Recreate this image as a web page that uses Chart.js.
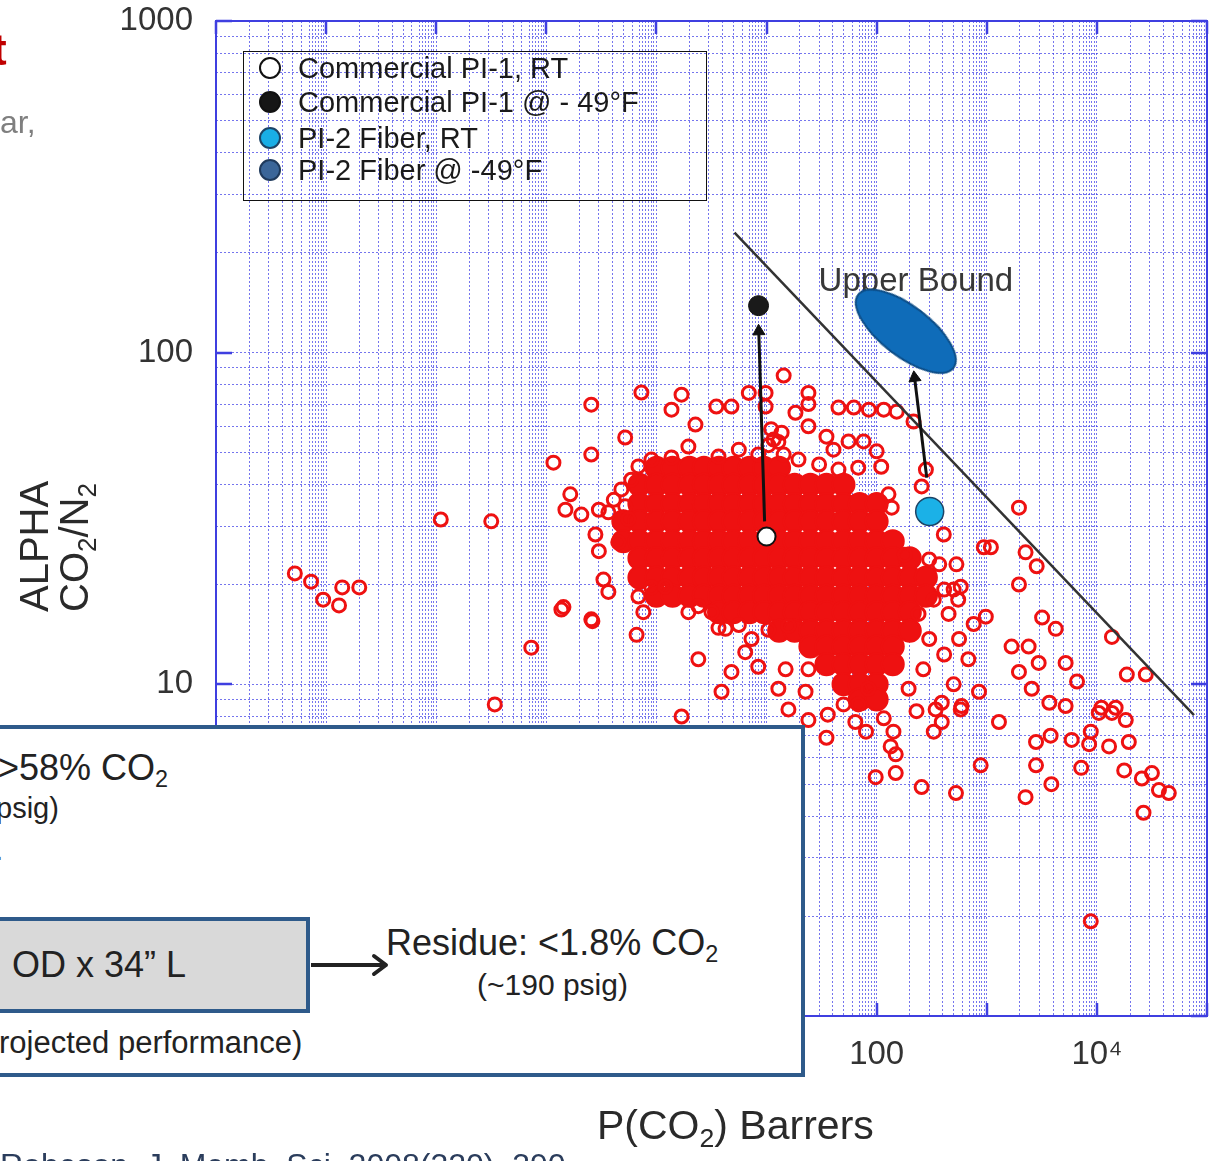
<!DOCTYPE html>
<html><head><meta charset="utf-8">
<script src="https://cdn.jsdelivr.net/npm/chart.js@4.4.1/dist/chart.umd.min.js"></script>
<style>
html,body{margin:0;padding:0;background:#fff;overflow:hidden;}
body{width:1213px;height:1161px;position:relative;font-family:"Liberation Sans",Arial,Helvetica,sans-serif;}
#wrap{position:absolute;left:0;top:0;width:1213px;height:1161px;}
.abs{position:absolute;white-space:nowrap;}
.sb{position:relative;top:0.3em;font-size:0.65em;vertical-align:baseline;}
.lg{position:absolute;left:298px;font-size:29px;line-height:29px;color:#1a1a1a;white-space:nowrap;}
.mk{position:absolute;left:259px;width:18px;height:18px;border-radius:50%;border:2px solid #111;}
</style></head><body>
<div id="wrap"><canvas id="c" width="1213" height="1161"></canvas></div>

<!-- cropped slide text at top-left -->
<div class="abs" style="left:-8px;top:28px;font-size:44px;line-height:44px;font-weight:bold;color:#c00000;">t</div>
<div class="abs" style="left:0px;top:106px;font-size:32px;line-height:32px;color:#7f7f7f;">ar,</div>

<!-- legend -->
<div class="abs" style="left:243px;top:51px;width:462px;height:148px;border:1.5px solid #111;"></div>
<div class="mk" style="top:57px;background:#fff;"></div>
<div class="mk" style="top:91px;background:#161616;"></div>
<div class="mk" style="top:127px;background:#19aee6;border-color:#1d4466;"></div>
<div class="mk" style="top:159px;background:#3b6699;border-color:#1f3a5c;"></div>
<div class="lg" style="top:54px;">Commercial PI-1, RT</div>
<div class="lg" style="top:88px;">Commercial PI-1 @ - 49°F</div>
<div class="lg" style="top:124px;">PI-2 Fiber, RT</div>
<div class="lg" style="top:156px;">PI-2 Fiber @ -49°F</div>

<!-- axis titles -->
<div class="abs" style="left:14px;top:612px;transform-origin:0 0;transform:rotate(-90deg);font-size:40px;line-height:40px;color:#2a2a2a;">ALPHA<br>CO<span class="sb">2</span>/N<span class="sb">2</span></div>
<div class="abs" style="left:597px;top:1105px;font-size:41px;line-height:41px;color:#2a2a2a;">P(CO<span class="sb">2</span>) Barrers</div>

<!-- overlay process box -->
<div class="abs" style="left:-20px;top:725px;width:817px;height:344px;border:4px solid #2e5a8a;background:#fff;"></div>
<div class="abs" style="left:-2px;top:750px;font-size:36px;line-height:36px;color:#222;">&gt;58% CO<span class="sb">2</span></div>
<div class="abs" style="left:-4px;top:794px;font-size:29px;line-height:29px;color:#222;">psig)</div>
<div class="abs" style="left:-5px;top:836px;font-size:29px;line-height:29px;color:#222;">.</div>
<div class="abs" style="left:-20px;top:917px;width:322px;height:88px;border:4px solid #2e5a8a;background:#d9d9d9;"></div>
<div class="abs" style="left:12px;top:947px;font-size:36px;line-height:36px;color:#222;">OD x 34” L</div>
<svg class="abs" style="left:305px;top:950px;" width="90" height="30"><line x1="6" y1="15" x2="80" y2="15" stroke="#222" stroke-width="4"/><polyline points="69,6 81,15 69,24" fill="none" stroke="#222" stroke-width="4" stroke-linecap="round" stroke-linejoin="round"/></svg>
<div class="abs" style="left:386px;top:925px;font-size:36px;line-height:36px;color:#222;">Residue: &lt;1.8% CO<span class="sb">2</span></div>
<div class="abs" style="left:477px;top:970px;font-size:30px;line-height:30px;color:#222;">(~190 psig)</div>
<div class="abs" style="left:-1px;top:1027px;font-size:31px;line-height:31px;color:#222;">rojected performance)</div>

<!-- citation (cut at page bottom) -->
<div class="abs" style="left:0px;top:1149px;font-size:32px;line-height:32px;color:#2b3d5c;">Robeson, J. Memb. Sci. 2008(320), 390</div>

<script>
// ---------------- data ----------------
// Literature data (red open circles): outlying points
const literaturePoints = [
 [0.00052,21.6],[0.00073,20.4],[0.00094,18],[0.00131,17.3],[0.0014,19.6],[0.002,19.6],
 [0.011,31.4],[0.0316,31],[0.073,12.9],[0.034,8.7],[0.116,46.6],[0.143,17.1],[0.262,15.5],
 [0.256,69.7],[0.256,49.3],[0.52,55.5],[0.73,75.8],
 [0.165,37.4],[0.149,33.6],[0.208,32.5],[0.3,33.6],[0.366,33],[0.279,28.3],[0.3,25.2],
 [0.45,26.8],[0.33,20.7],[0.366,19],[0.137,16.8],[0.256,15.7],[0.66,14.1],[0.686,18.4],
 [0.9,19.6],[1.2,19.7],[0.76,16.5],[1.95,16.5],[2.4,17.2],[3.16,16.5],[2.4,11.9],[4.24,14.7],
 [3.9,9.5],[4.8,10.9],[6.4,12.5],[7.3,13.7],[8.4,11.3],[15.8,15],[14.9,11.1],[12.8,9.7],
 [24,11.1],[22.6,9.5],[1.69,8],[15.8,8.4],
 [1.37,67.3],[1.69,74.7],[2.26,60.7],[3.5,68.8],[4.8,68.8],[6.9,75.6],[9.8,75.6],[13.7,57.4],
 [18.3,65.9],[24,75.6],[24,60],[14.3,85.3],
 [0.686,45.4],[0.9,47.6],[1.37,48.3],[1.95,52.1],[3.66,48.6],[0.48,38.7],[0.59,41.4],[0.52,34.4],
 [24,70],[45,68.3],[62,68.3],[85,67.3],[116,67.3],[152,66.4],[216,62],[35,55.8],[40.5,51],
 [55.5,54],[76,54],[100,50.4],[45,44.4],[68,45],[110,45.3],[280,44.4],[256,39.5],[128,37.4],
 [137,34.1],[407,28.3],[1960,34.1],[940,25.9],[1090,25.9],[2250,25],[2840,22.7],[1960,20],
 [530,23],[580,19.7],[980,16],[3180,15.9],[4230,14.7],[13700,13.9],[1680,13],[2400,13],
 [2960,11.6],[5200,11.6],[6600,10.2],[18700,10.7],[27800,10.7],[1960,10.9],[2560,9.7],
 [3700,8.8],[5200,8.6],[11000,8.5],[14800,8.5],[850,9.5],[590,8.6],[390,8.8],
 [35,6.9],[64,7.7],[80,7.2],[98,5.25],[142,7.2],[134,6.5],[149,6.15],[149,5.4],[256,4.9],
 [343,8.4],[390,7.7],[330,7.2],[580,8.4],[525,4.7],[880,5.7],[1290,7.7],[2800,6.7],[3800,7],
 [2800,5.7],[2250,4.57],[3860,5],[5900,6.8],[7200,5.6],[8800,7.2],[8500,6.6],[12900,6.5],
 [17700,5.5],[19500,6.7],[25600,5.2],[31600,5.4],[36600,4.8],[45000,4.7],[26500,4.1],
 [8800,1.93],[13700,8.2],[18300,7.8],[10400,8.2],
 [330,18],[450,16.3],[300,13.7],[410,12.3],[560,13.7],[265,11.1],[500,10],[680,11.9],
 [195,9.7],[230,8.3],[116,7.9],[68,8.7],[84,9.7],[50,8.7],[36,8.1],[24,7.8],[370,23],
 [550,18],[760,15.2],[500,19.3],[180,24.6],
 [11.6,54.7],[10.4,52.6],[9.8,68.8],[11,58.8],[12.8,53.8],
 [5.6,51],[8.4,49.3],[19.5,47.6],[30,46],[14.3,49.3],[5.6,15.1],[10.4,14.6],[3.66,14.8],
 [0.556,31.5],[0.41,36],[300,23.8],[410,19.3],[240,16.3]
];
// Literature data: the dense, overlapping mass of circles in the middle
const literatureCore = [
 [0.5,31],[0.5,27],
 [0.7,40],[0.7,35],[0.7,31],[0.7,27],[0.7,24],[0.7,21],
 [1,45],[1,40],[1,35],[1,31],[1,27],[1,24],[1,21],[1,18.5],
 [1.4,45],[1.4,40],[1.4,35],[1.4,31],[1.4,27],[1.4,24],[1.4,21],[1.4,18.5],
 [2,45],[2,40],[2,35],[2,31],[2,27],[2,24],[2,21],[2,18.5],
 [2.7,45],[2.7,40],[2.7,35],[2.7,31],[2.7,27],[2.7,24],[2.7,21],[2.7,18.5],
 [3.7,45],[3.7,40],[3.7,35],[3.7,31],[3.7,27],[3.7,24],[3.7,21],[3.7,18.5],[3.7,16.5],
 [5,45],[5,40],[5,35],[5,31],[5,27],[5,24],[5,21],[5,18.5],[5,16.5],
 [7,45],[7,40],[7,35],[7,31],[7,27],[7,24],[7,21],[7,18.5],[7,16.5],
 [9.5,45],[9.5,40],[9.5,35],[9.5,31],[9.5,27],[9.5,24],[9.5,21],[9.5,18.5],[9.5,16.5],
 [13,45],[13,40],[13,35],[13,31],[13,27],[13,24],[13,21],[13,18.5],[13,16.5],[13,14.5],
 [18,40],[18,35],[18,31],[18,27],[18,24],[18,21],[18,18.5],[18,16.5],[18,14.5],
 [25,40],[25,35],[25,31],[25,27],[25,24],[25,21],[25,18.5],[25,16.5],[25,14.5],[25,13],
 [35,40],[35,35],[35,31],[35,27],[35,24],[35,21],[35,18.5],[35,16.5],[35,14.5],[35,13],[35,11.5],
 [50,40],[50,35],[50,31],[50,27],[50,24],[50,21],[50,18.5],[50,16.5],[50,14.5],[50,13],[50,11.5],[50,10],
 [70,35],[70,31],[70,27],[70,24],[70,21],[70,18.5],[70,16.5],[70,14.5],[70,13],[70,11.5],[70,10],[70,9],
 [100,35],[100,31],[100,27],[100,24],[100,21],[100,18.5],[100,16.5],[100,14.5],[100,13],[100,11.5],[100,10],[100,9],
 [140,27],[140,24],[140,21],[140,18.5],[140,16.5],[140,14.5],[140,13],[140,11.5],
 [200,24],[200,21],[200,18.5],[200,16.5],[200,14.5],
 [280,21],[280,18.5]
];
const pi1RT   = [[10, 27.9]];      // Commercial PI-1, RT
const pi1Cold = [[8.46, 138.6]];   // Commercial PI-1 @ -49°F
const pi2RT   = [[303, 33.2]];     // PI-2 Fiber, RT
const pi2Cold = [[184, 116]];      // PI-2 Fiber @ -49°F (ellipse)
const upperBound = [[5.12, 230], [76200, 8.07]];
const arrowPI1 = [[9.6, 31], [8.5, 116]];
const arrowPI2 = [[285, 42], [221, 84]];
const upperBoundLabel = 'Upper Bound';
const upperBoundLabelAt = [29.7, 164];
const xTickLabels = [[1e-4,'10⁻⁴'],[0.01,'0.01'],[1,'1'],[100,'100'],[1e4,'10⁴']];
const yTickLabels = [[1,'1'],[10,'10'],[100,'100'],[1000,'1000']];
const xGridMultipliers = [1,2,3,4,5,6,7,7.5,8,8.5,9,9.5];
const yGridMultipliers = [1,2,3,4,5,6,7,8,9];
// ----------------------------------------------------------------

const toXY = a => a.map(p => ({x:p[0], y:p[1]}));
function gridTicks(minExp, maxExp, mults){
  const t = [];
  for (let k = minExp; k < maxExp; k++) for (const m of mults) t.push({value: m*Math.pow(10,k)});
  t.push({value: Math.pow(10,maxExp)});
  return t;
}
function labelFor(list, v){
  for (const [val, s] of list) if (Math.abs(Math.log10(val) - Math.log10(v)) < 1e-6) return s;
  return '';
}
function zeroPad(s){ s.paddingTop = 0; s.paddingBottom = 0; s.paddingLeft = 0; s.paddingRight = 0; }

// ellipse marker image for PI-2 Fiber @ -49°F
const ell = document.createElement('canvas');
ell.width = 128; ell.height = 58;
{ const g = ell.getContext('2d'); g.beginPath(); g.ellipse(64,29,60,25,0,0,Math.PI*2);
  g.fillStyle = '#0f6cb9'; g.fill(); g.lineWidth = 2; g.strokeStyle = '#0b4c86'; g.stroke(); }

const RED = '#ee1111';
const BLUE_FRAME = '#3f3fe0';
const GRID = 'rgba(64,64,232,0.72)';

const framePlugin = {
  id: 'frame',
  beforeDatasetsDraw(chart){
    const {ctx, chartArea:a, scales:{x, y}} = chart;
    ctx.save();
    ctx.strokeStyle = BLUE_FRAME; ctx.lineWidth = 2;
    ctx.strokeRect(a.left, a.top, a.right - a.left, a.bottom - a.top);
    ctx.lineWidth = 2.5;
    for (let k = -4; k <= 5; k++){
      const px = Math.round(x.getPixelForValue(Math.pow(10,k)));
      ctx.beginPath(); ctx.moveTo(px, a.bottom); ctx.lineTo(px, a.bottom - 13);
      ctx.moveTo(px, a.top); ctx.lineTo(px, a.top + 13); ctx.stroke();
    }
    for (let k = 0; k <= 3; k++){
      const py = Math.round(y.getPixelForValue(Math.pow(10,k)));
      ctx.beginPath(); ctx.moveTo(a.left, py); ctx.lineTo(a.left + 16, py);
      ctx.moveTo(a.right, py); ctx.lineTo(a.right - 16, py); ctx.stroke();
    }
    ctx.font = '33px "Liberation Sans", Arial, sans-serif';
    ctx.fillStyle = '#383838'; ctx.textBaseline = 'middle'; ctx.textAlign = 'left';
    ctx.fillText(upperBoundLabel, x.getPixelForValue(upperBoundLabelAt[0]), y.getPixelForValue(upperBoundLabelAt[1]));
    ctx.restore();
  }
};

new Chart(document.getElementById('c'), {
  type: 'scatter',
  data: { datasets: [
    { label:'Commercial PI-1, RT', data: toXY(pi1RT), order:1, pointRadius:9, pointBackgroundColor:'#fff', pointBorderColor:'#111', pointBorderWidth:2 },
    { label:'Commercial PI-1 @ -49°F', data: toXY(pi1Cold), order:1, pointRadius:10, pointBackgroundColor:'#1a1a1a', pointBorderColor:'#111', pointBorderWidth:1 },
    { label:'PI-2 Fiber, RT', data: toXY(pi2RT), order:1, pointRadius:14, pointBackgroundColor:'#1bb1e7', pointBorderColor:'#1d4466', pointBorderWidth:1.5 },
    { label:'arrow1', data: toXY(arrowPI1), order:2, showLine:true, borderColor:'#111', borderWidth:3, pointStyle:'triangle', pointRadius:[0,7], pointRotation:[0,-2], pointBackgroundColor:'#111', pointBorderColor:'#111', pointBorderWidth:1 },
    { label:'arrow2', data: toXY(arrowPI2), order:2, showLine:true, borderColor:'#111', borderWidth:3, pointStyle:'triangle', pointRadius:[0,7], pointRotation:[0,-7], pointBackgroundColor:'#111', pointBorderColor:'#111', pointBorderWidth:1 },
    { label:'PI-2 Fiber @ -49°F', data: toXY(pi2Cold), order:3, pointStyle: ell, pointRadius:30, pointRotation:37.6 },
    { label:'Upper Bound', data: toXY(upperBound), order:4, showLine:true, borderColor:'#333', borderWidth:2.5, pointRadius:0 },
    { label:'Literature', data: toXY(literaturePoints), order:5, pointRadius:6.5, pointBorderWidth:3, pointBorderColor:RED, pointBackgroundColor:'rgba(0,0,0,0)' },
    { label:'Literature (dense)', data: toXY(literatureCore), order:6, pointRadius:11, pointBorderWidth:2, pointBorderColor:RED, pointBackgroundColor:RED }
  ]},
  options: {
    responsive:false, devicePixelRatio:1, animation:false,
    layout:{ autoPadding:false, padding:{ top:21, right:6, left:0, bottom:0 } },
    plugins:{ legend:{display:false}, tooltip:{enabled:false} },
    elements:{ point:{ hoverRadius:0 } },
    scales:{
      x:{ type:'logarithmic', min:1e-4, max:1e5, position:'bottom',
          afterFit(s){ s.height = 145; zeroPad(s); },
          afterBuildTicks(s){ s.ticks = gridTicks(-4, 5, xGridMultipliers); },
          ticks:{ autoSkip:false, maxRotation:0, minRotation:0, padding:19, color:'#333',
                  font:{ family:'"Liberation Sans", Arial, sans-serif', size:33 },
                  callback:(v)=>labelFor(xTickLabels, v) },
          grid:{ color:GRID, lineWidth:1, drawTicks:false, borderDash:[2,2] },
          border:{ display:false, dash:[2,2] } },
      y:{ type:'logarithmic', min:1, max:1000, position:'left',
          afterFit(s){ s.width = 216; zeroPad(s); },
          afterBuildTicks(s){ s.ticks = gridTicks(0, 3, yGridMultipliers); },
          ticks:{ autoSkip:false, padding:23, color:'#333',
                  font:{ family:'"Liberation Sans", Arial, sans-serif', size:33 },
                  callback:(v)=>labelFor(yTickLabels, v) },
          grid:{ color:GRID, lineWidth:1, drawTicks:false, borderDash:[2,2] },
          border:{ display:false, dash:[2,2] } }
    }
  },
  plugins:[framePlugin]
});
</script>
</body></html>
